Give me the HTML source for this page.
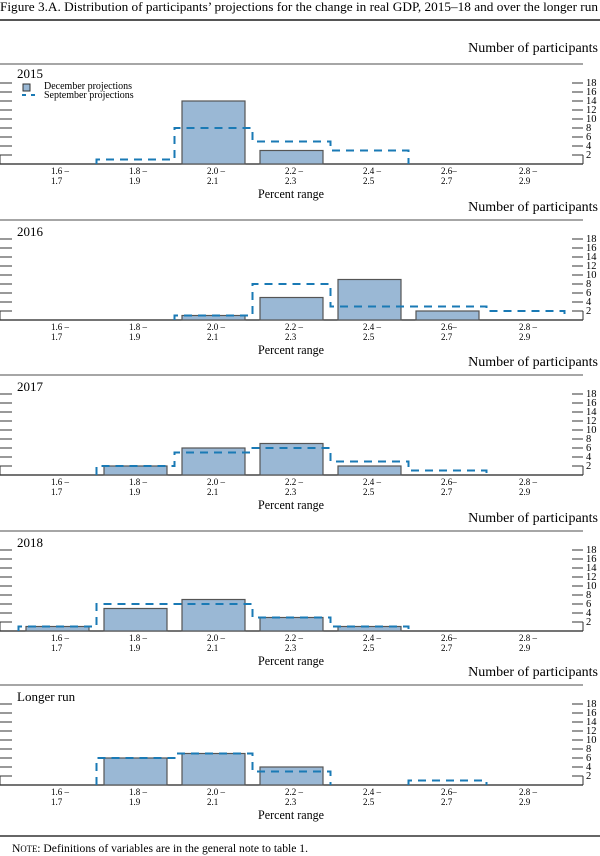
<!DOCTYPE html>
<html><head><meta charset="utf-8"><style>
body{margin:0;background:#fff}
svg{display:block;font-family:"Liberation Serif",serif}
.bar{fill:#9ab8d5;stroke:#555;stroke-width:1.2}
.sep{fill:none;stroke:#1a7ab5;stroke-width:2;stroke-dasharray:8 6}
.tk{stroke:#333;stroke-width:1}
.rl{font-size:10.5px}
.bl{font-size:9px}
</style></head><body>
<svg width="600" height="856" viewBox="0 0 600 856">
<defs>
<g id="ax">
<line x1="0" y1="-100" x2="583" y2="-100" stroke="#888" stroke-width="1.5"/>
<line x1="0" y1="0" x2="583" y2="0" stroke="#222" stroke-width="1.2"/>
<path class="tk" d="M0 0V-9M0 -9H12M0 -18H12M0 -27H12M0 -36H12M0 -45H12M0 -54H12M0 -63H12M0 -72H12M0 -81H12M583 0V-9M572 -9H583M572 -18H583M572 -27H583M572 -36H583M572 -45H583M572 -54H583M572 -63H583M572 -72H583M572 -81H583"/>
</g>
</defs>
<text x="0" y="11" font-size="13" textLength="598" lengthAdjust="spacingAndGlyphs">Figure 3.A. Distribution of participants’ projections for the change in real GDP, 2015–18 and over the longer run</text>
<line x1="0" y1="20" x2="600" y2="20" stroke="#555" stroke-width="2"/>

<!-- Panel 1 -->
<g transform="translate(0,164)">
<use href="#ax"/>
<text x="598" y="-112" font-size="14" text-anchor="end">Number of participants</text>
<text x="17" y="-86" font-size="13">2015</text>
<rect x="23" y="-80" width="7" height="7" fill="#9ab8d5" stroke="#333"/>
<line x1="22" y1="-69" x2="36" y2="-69" stroke="#1a7ab5" stroke-width="2" stroke-dasharray="4 5"/>
<text x="44" y="-75" font-size="10">December projections</text>
<text x="44" y="-66" font-size="10">September projections</text>
<rect class="bar" x="182" y="-63" width="63" height="63"/>
<rect class="bar" x="260" y="-13.5" width="63" height="13.5"/>
<path class="sep" d="M96.5 0V-4.5H174.5V-36H252.5V-22.5H330.5V-13.5H408.5V0"/>
<g class="rl"><text x="586" y="-6">2</text><text x="586" y="-15">4</text><text x="586" y="-24">6</text><text x="586" y="-33">8</text><text x="586" y="-42">10</text><text x="586" y="-51">12</text><text x="586" y="-60">14</text><text x="586" y="-69">16</text><text x="586" y="-78">18</text></g>
<g class="bl"><text x="51" y="10">1.6 –</text><text x="51" y="20">1.7</text><text x="129" y="10">1.8 –</text><text x="129" y="20">1.9</text><text x="207" y="10">2.0 –</text><text x="207" y="20">2.1</text><text x="285" y="10">2.2 –</text><text x="285" y="20">2.3</text><text x="363" y="10">2.4 –</text><text x="363" y="20">2.5</text><text x="441" y="10">2.6–</text><text x="441" y="20">2.7</text><text x="519" y="10">2.8 –</text><text x="519" y="20">2.9</text></g>
<text x="258" y="34" font-size="13" textLength="66" lengthAdjust="spacingAndGlyphs">Percent range</text>
</g>

<!-- Panel 2 -->
<g transform="translate(0,320)">
<use href="#ax"/>
<text x="598" y="-109" font-size="14" text-anchor="end">Number of participants</text>
<text x="17" y="-84" font-size="13">2016</text>
<rect class="bar" x="182" y="-4.5" width="63" height="4.5"/>
<rect class="bar" x="260" y="-22.5" width="63" height="22.5"/>
<rect class="bar" x="338" y="-40.5" width="63" height="40.5"/>
<rect class="bar" x="416" y="-9" width="63" height="9"/>
<path class="sep" d="M174.5 0V-4.5H252.5V-36H330.5V-13.5H486.5V-9H564.5V0"/>
<g class="rl"><text x="586" y="-6">2</text><text x="586" y="-15">4</text><text x="586" y="-24">6</text><text x="586" y="-33">8</text><text x="586" y="-42">10</text><text x="586" y="-51">12</text><text x="586" y="-60">14</text><text x="586" y="-69">16</text><text x="586" y="-78">18</text></g>
<g class="bl"><text x="51" y="10">1.6 –</text><text x="51" y="20">1.7</text><text x="129" y="10">1.8 –</text><text x="129" y="20">1.9</text><text x="207" y="10">2.0 –</text><text x="207" y="20">2.1</text><text x="285" y="10">2.2 –</text><text x="285" y="20">2.3</text><text x="363" y="10">2.4 –</text><text x="363" y="20">2.5</text><text x="441" y="10">2.6–</text><text x="441" y="20">2.7</text><text x="519" y="10">2.8 –</text><text x="519" y="20">2.9</text></g>
<text x="258" y="34" font-size="13" textLength="66" lengthAdjust="spacingAndGlyphs">Percent range</text>
</g>

<!-- Panel 3 -->
<g transform="translate(0,475)">
<use href="#ax"/>
<text x="598" y="-109" font-size="14" text-anchor="end">Number of participants</text>
<text x="17" y="-84" font-size="13">2017</text>
<rect class="bar" x="104" y="-9" width="63" height="9"/>
<rect class="bar" x="182" y="-27" width="63" height="27"/>
<rect class="bar" x="260" y="-31.5" width="63" height="31.5"/>
<rect class="bar" x="338" y="-9" width="63" height="9"/>
<path class="sep" d="M96.5 0V-9H174.5V-22.5H252.5V-27H330.5V-13.5H408.5V-4.5H486.5V0"/>
<g class="rl"><text x="586" y="-6">2</text><text x="586" y="-15">4</text><text x="586" y="-24">6</text><text x="586" y="-33">8</text><text x="586" y="-42">10</text><text x="586" y="-51">12</text><text x="586" y="-60">14</text><text x="586" y="-69">16</text><text x="586" y="-78">18</text></g>
<g class="bl"><text x="51" y="10">1.6 –</text><text x="51" y="20">1.7</text><text x="129" y="10">1.8 –</text><text x="129" y="20">1.9</text><text x="207" y="10">2.0 –</text><text x="207" y="20">2.1</text><text x="285" y="10">2.2 –</text><text x="285" y="20">2.3</text><text x="363" y="10">2.4 –</text><text x="363" y="20">2.5</text><text x="441" y="10">2.6–</text><text x="441" y="20">2.7</text><text x="519" y="10">2.8 –</text><text x="519" y="20">2.9</text></g>
<text x="258" y="34" font-size="13" textLength="66" lengthAdjust="spacingAndGlyphs">Percent range</text>
</g>

<!-- Panel 4 -->
<g transform="translate(0,631)">
<use href="#ax"/>
<text x="598" y="-109" font-size="14" text-anchor="end">Number of participants</text>
<text x="17" y="-84" font-size="13">2018</text>
<rect class="bar" x="26" y="-4.5" width="63" height="4.5"/>
<rect class="bar" x="104" y="-22.5" width="63" height="22.5"/>
<rect class="bar" x="182" y="-31.5" width="63" height="31.5"/>
<rect class="bar" x="260" y="-13.5" width="63" height="13.5"/>
<rect class="bar" x="338" y="-4.5" width="63" height="4.5"/>
<path class="sep" d="M18.5 0V-4.5H96.5V-27H252.5V-13.5H330.5V-4.5H408.5V0"/>
<g class="rl"><text x="586" y="-6">2</text><text x="586" y="-15">4</text><text x="586" y="-24">6</text><text x="586" y="-33">8</text><text x="586" y="-42">10</text><text x="586" y="-51">12</text><text x="586" y="-60">14</text><text x="586" y="-69">16</text><text x="586" y="-78">18</text></g>
<g class="bl"><text x="51" y="10">1.6 –</text><text x="51" y="20">1.7</text><text x="129" y="10">1.8 –</text><text x="129" y="20">1.9</text><text x="207" y="10">2.0 –</text><text x="207" y="20">2.1</text><text x="285" y="10">2.2 –</text><text x="285" y="20">2.3</text><text x="363" y="10">2.4 –</text><text x="363" y="20">2.5</text><text x="441" y="10">2.6–</text><text x="441" y="20">2.7</text><text x="519" y="10">2.8 –</text><text x="519" y="20">2.9</text></g>
<text x="258" y="34" font-size="13" textLength="66" lengthAdjust="spacingAndGlyphs">Percent range</text>
</g>

<!-- Panel 5 -->
<g transform="translate(0,785)">
<use href="#ax"/>
<text x="598" y="-109" font-size="14" text-anchor="end">Number of participants</text>
<text x="17" y="-84" font-size="13">Longer run</text>
<rect class="bar" x="104" y="-27" width="63" height="27"/>
<rect class="bar" x="182" y="-31.5" width="63" height="31.5"/>
<rect class="bar" x="260" y="-18" width="63" height="18"/>
<path class="sep" d="M96.5 0V-27H174.5V-31.5H252.5V-13.5H330.5V0M408.5 0V-4.5H486.5V0"/>
<g class="rl"><text x="586" y="-6">2</text><text x="586" y="-15">4</text><text x="586" y="-24">6</text><text x="586" y="-33">8</text><text x="586" y="-42">10</text><text x="586" y="-51">12</text><text x="586" y="-60">14</text><text x="586" y="-69">16</text><text x="586" y="-78">18</text></g>
<g class="bl"><text x="51" y="10">1.6 –</text><text x="51" y="20">1.7</text><text x="129" y="10">1.8 –</text><text x="129" y="20">1.9</text><text x="207" y="10">2.0 –</text><text x="207" y="20">2.1</text><text x="285" y="10">2.2 –</text><text x="285" y="20">2.3</text><text x="363" y="10">2.4 –</text><text x="363" y="20">2.5</text><text x="441" y="10">2.6–</text><text x="441" y="20">2.7</text><text x="519" y="10">2.8 –</text><text x="519" y="20">2.9</text></g>
<text x="258" y="34" font-size="13" textLength="66" lengthAdjust="spacingAndGlyphs">Percent range</text>
</g>

<line x1="0" y1="836" x2="600" y2="836" stroke="#333" stroke-width="1.5"/>
<text x="12" y="852" font-size="12" textLength="296" lengthAdjust="spacingAndGlyphs">N<tspan font-size="9">OTE</tspan>: Definitions of variables are in the general note to table 1.</text>
</svg>
</body></html>
